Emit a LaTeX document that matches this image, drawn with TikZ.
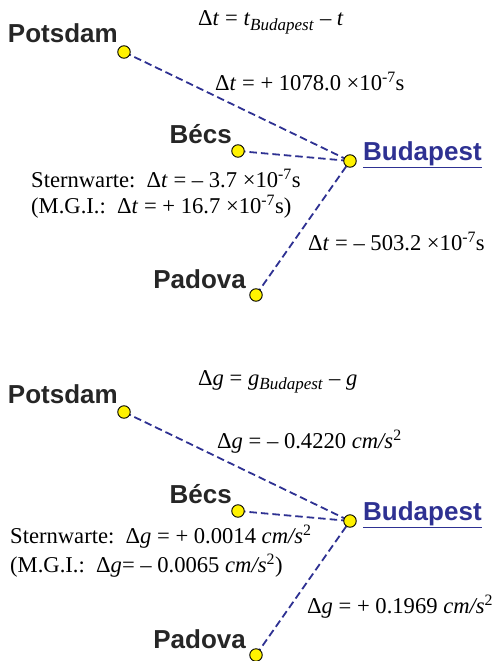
\documentclass[tikz,border=0pt]{standalone}
\usepackage{fontspec}
\setmainfont{Liberation Serif}
\setsansfont{Liberation Sans}
\usetikzlibrary{positioning}
\definecolor{dnavy}{HTML}{2E3192}
\definecolor{dyellow}{HTML}{FFF200}
\tikzset{
  station/.style={circle, draw=black, fill=dyellow, line width=0.9pt, minimum size=12.5pt, inner sep=0pt},
  city/.style={font=\sffamily\bfseries\fontsize{26}{26}\selectfont, inner sep=0pt, text=black!85},
  capital/.style={city, text=dnavy},
  link/.style={dnavy, line width=1.8pt, dash pattern=on 7.5pt off 4pt},
  formula/.style={font=\fontsize{22.6}{26}\selectfont, inner sep=0pt, anchor=base west},
}
\newcommand{\pw}[1]{\textsuperscript{#1}}
\newcommand{\vi}[1]{\textit{#1}}
\begin{document}
\begin{tikzpicture}[x=1pt, y=-1pt]
  \useasboundingbox (0,0) rectangle (493,661);
  % the same network twice: time (t) and gravity (g)
  \foreach \p/\dy in {t/0, g/360} {
    \draw[link] (124,52+\dy) coordinate (pots-\p) -- (350,161+\dy) coordinate (buda-\p);
    \draw[link] (238,151+\dy) coordinate (becs-\p) -- (buda-\p);
    \draw[link] (256,295+\dy) coordinate (pado-\p) -- (buda-\p);
    \node[station] (pots-\p-dot) at (pots-\p) {};
    \node[station] (becs-\p-dot) at (becs-\p) {};
    \node[station] (buda-\p-dot) at (buda-\p) {};
    \node[station] (pado-\p-dot) at (pado-\p) {};
    \node[city, anchor=base east] (pots-\p-name) at (118,43+\dy) {Potsdam};
    \node[city, anchor=base east] (becs-\p-name) at (232,143+\dy) {Bécs};
    \node[capital, anchor=base west] (buda-\p-name) at (363,160+\dy) {\underline{Budapest}};
    \node[city, anchor=base east] (pado-\p-name) at (246,288+\dy) {Padova};
  }
  % time differences
  \node[formula] (t-def) at (198,26) {Δ\vi{t} = \vi{t}\textsubscript{\vi{\fontsize{17}{17}\selectfont Budapest}} – \vi{t}};
  \node[formula] (t-pots) at (215,90) {Δ\vi{t} = + 1078.0 ×10\pw{-7}s};
  \node[formula] (t-becs) at (31,187) {Sternwarte:\ \ Δ\vi{t} = – 3.7 ×10\pw{-7}s};
  \node[formula] (t-mgi) at (31,213) {(M.G.I.:\ \ Δ\vi{t} = + 16.7 ×10\pw{-7}s)};
  \node[formula] (t-pado) at (308,250) {Δ\vi{t} = – 503.2 ×10\pw{-7}s};
  % gravity differences
  \node[formula] (g-def) at (198,385) {Δ\vi{g} = \vi{g}\textsubscript{\vi{\fontsize{17}{17}\selectfont Budapest}} – \vi{g}};
  \node[formula] (g-pots) at (217,448) {Δ\vi{g} = – 0.4220 \vi{cm/s}\pw{2}};
  \node[formula] (g-becs) at (10,543) {Sternwarte:\ \ Δ\vi{g} = + 0.0014 \vi{cm/s}\pw{2}};
  \node[formula] (g-mgi) at (10,572) {(M.G.I.:\ \ Δ\vi{g}= – 0.0065 \vi{cm/s}\pw{2})};
  \node[formula] (g-pado) at (307,613) {Δ\vi{g} = + 0.1969 \vi{cm/s}\pw{2}};
\end{tikzpicture}
\end{document}
